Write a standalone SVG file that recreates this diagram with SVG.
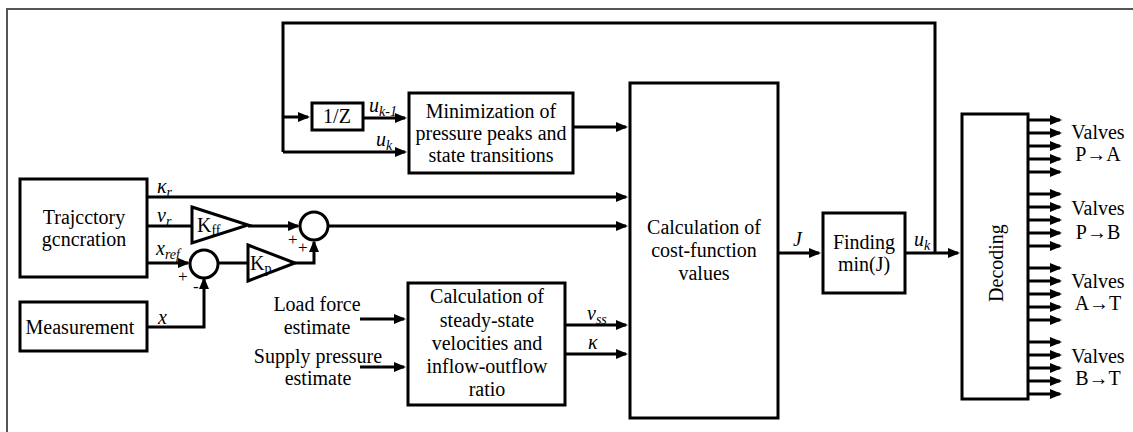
<svg xmlns="http://www.w3.org/2000/svg" width="1133" height="432" viewBox="0 0 1133 432">
  <defs>
    <marker id="arrow" markerUnits="userSpaceOnUse" markerWidth="13" markerHeight="11" refX="10" refY="5" orient="auto">
      <path d="M0,0 L12,5 L0,10 z" fill="#000"/>
    </marker>
    <style>
      .box { fill: #fff; stroke: #000; stroke-width: 3; }
      .wire { fill: none; stroke: #000; stroke-width: 3; }
      .arr { fill: none; stroke: #000; stroke-width: 3; marker-end: url(#arrow); }
      .t { font-family: "Liberation Serif", "Times New Roman", serif; font-size: 20px; fill: #000; }
      .c { text-anchor: middle; }
      .i { font-style: italic; }
      .sub { font-size: 14px; }
      .sign { font-family: "Liberation Serif", serif; font-size: 17px; fill: #000; }
    </style>
  </defs>

  <rect width="1133" height="432" fill="#fff"/>
  <!-- outer frame -->
  <path d="M7,432 V9 H1133" fill="none" stroke="#555" stroke-width="2"/>

  <!-- connectors -->
  <g id="connectors" font-family="Liberation Serif, serif">
    <!-- feedback loop u_k -->
    <path class="wire" d="M935,253 V23 H283 V152"/>
    <path class="arr" d="M283,152 H405"/>
    <path class="arr" d="M283,117 H308"/>
    <path class="arr" d="M363,118 H405"/>
    <path class="arr" d="M573,127 H626"/>
    <!-- trajectory signals -->
    <path class="arr" d="M147,197 H626"/>
    <path class="wire" d="M147,226 H192"/>
    <path class="arr" d="M248,226 H298"/>
    <path class="arr" d="M328,226 H626"/>
    <path class="arr" d="M147,263 H188"/>
    <path class="wire" d="M218,263 H248"/>
    <path class="arr" d="M295,263 H314 V242"/>
    <path class="arr" d="M147,327 H204 V279"/>
    <!-- estimates -->
    <path class="arr" d="M360,319 H404"/>
    <path class="arr" d="M360,367 H404"/>
    <path class="arr" d="M565,325 H626"/>
    <path class="arr" d="M565,354 H626"/>
    <!-- cost / min / decode -->
    <path class="arr" d="M778,253 H819"/>
    <path class="arr" d="M905,253 H958"/>
    <!-- decoded valve commands -->
    <g id="valve-outputs">
      <path class="arr" d="M1028,120 H1060"/>
      <path class="arr" d="M1028,133 H1060"/>
      <path class="arr" d="M1028,146 H1060"/>
      <path class="arr" d="M1028,159 H1060"/>
      <path class="arr" d="M1028,172 H1060"/>
      <path class="arr" d="M1028,194 H1060"/>
      <path class="arr" d="M1028,207 H1060"/>
      <path class="arr" d="M1028,220 H1060"/>
      <path class="arr" d="M1028,233 H1060"/>
      <path class="arr" d="M1028,246 H1060"/>
      <path class="arr" d="M1028,268 H1060"/>
      <path class="arr" d="M1028,281 H1060"/>
      <path class="arr" d="M1028,294 H1060"/>
      <path class="arr" d="M1028,307 H1060"/>
      <path class="arr" d="M1028,320 H1060"/>
      <path class="arr" d="M1028,342 H1060"/>
      <path class="arr" d="M1028,355 H1060"/>
      <path class="arr" d="M1028,368 H1060"/>
      <path class="arr" d="M1028,381 H1060"/>
      <path class="arr" d="M1028,394 H1060"/>
    </g>
    <!-- signal labels -->
    <text class="t i" x="157" y="193">κ<tspan class="sub" dy="4">r</tspan></text>
    <text class="t i" x="157" y="222">v<tspan class="sub" dy="4">r</tspan></text>
    <text class="t i" x="156" y="255">x<tspan class="sub" dy="4">ref</tspan></text>
    <text class="t i" x="158" y="324">x</text>
    <text class="t i" x="369" y="112">u<tspan class="sub" dy="4">k-1</tspan></text>
    <text class="t i" x="376" y="146">u<tspan class="sub" dy="4">k</tspan></text>
    <text class="t i" x="587" y="320">v<tspan class="sub" dy="4">ss</tspan></text>
    <text class="t i" x="588" y="349">κ</text>
    <text class="t i" x="793" y="246">J</text>
    <text class="t i" x="914" y="246">u<tspan class="sub" dy="4">k</tspan></text>
    <!-- summing junction signs -->
    <text class="sign" x="178" y="282">+</text>
    <text class="sign" x="193" y="292">-</text>
    <text class="sign" x="288" y="245">+</text>
    <text class="sign" x="298" y="253">+</text>
    <!-- external inputs -->
    <text class="t c" x="317" y="311">Load force</text>
    <text class="t c" x="317" y="334">estimate</text>
    <text class="t c" x="318" y="363">Supply pressure</text>
    <text class="t c" x="318" y="385">estimate</text>
    <!-- valve group labels -->
    <text class="t c" x="1098" y="139">Valves</text>
    <text class="t c" x="1098" y="161">P→A</text>
    <text class="t c" x="1098" y="215">Valves</text>
    <text class="t c" x="1098" y="239">P→B</text>
    <text class="t c" x="1098" y="288">Valves</text>
    <text class="t c" x="1098" y="310">A→T</text>
    <text class="t c" x="1098" y="363">Valves</text>
    <text class="t c" x="1098" y="385">B→T</text>
  </g>

  <g id="trajectory" font-family="Liberation Serif, serif">
    <rect class="box" x="20" y="179" width="127" height="98"/>
    <text class="t c" x="84" y="224">Trajcctory</text>
    <text class="t c" x="84" y="246">gcncration</text>
  </g>

  <g id="measurement" font-family="Liberation Serif, serif">
    <rect class="box" x="20" y="302" width="127" height="49"/>
    <text class="t c" x="80" y="334">Measurement</text>
  </g>

  <g id="kff" font-family="Liberation Serif, serif">
    <path class="box" d="M192,207 L248,225 L192,243 z"/>
    <text class="t" x="197" y="232">K<tspan class="sub" dy="3">ff</tspan></text>
  </g>

  <g id="kp" font-family="Liberation Serif, serif">
    <path class="box" d="M248,245 L295,263 L248,281 z"/>
    <text class="t" x="250" y="270">K<tspan class="sub" dy="3">p</tspan></text>
  </g>

  <g id="sum-error">
    <circle class="box" cx="204" cy="264" r="14"/>
  </g>

  <g id="sum-velocity">
    <circle class="box" cx="314" cy="226" r="14"/>
  </g>

  <g id="delay" font-family="Liberation Serif, serif">
    <rect class="box" x="312" y="103" width="51" height="27"/>
    <text class="t c" x="337" y="123">1/Z</text>
  </g>

  <g id="minimization" font-family="Liberation Serif, serif">
    <rect class="box" x="409" y="93" width="164" height="80"/>
    <text class="t c" x="491" y="118">Minimization of</text>
    <text class="t c" x="491" y="140">pressure peaks and</text>
    <text class="t c" x="491" y="162">state transitions</text>
  </g>

  <g id="steady-state" font-family="Liberation Serif, serif">
    <rect class="box" x="408" y="283" width="157" height="122"/>
    <text class="t c" x="487" y="303">Calculation of</text>
    <text class="t c" x="487" y="327">steady-state</text>
    <text class="t c" x="487" y="350">velocities and</text>
    <text class="t c" x="487" y="373">inflow-outflow</text>
    <text class="t c" x="487" y="396">ratio</text>
  </g>

  <g id="cost-function" font-family="Liberation Serif, serif">
    <rect class="box" x="630" y="83" width="148" height="335"/>
    <text class="t c" x="704" y="234">Calculation of</text>
    <text class="t c" x="704" y="257">cost-function</text>
    <text class="t c" x="704" y="280">values</text>
  </g>

  <g id="finding-min" font-family="Liberation Serif, serif">
    <rect class="box" x="823" y="213" width="82" height="80"/>
    <text class="t c" x="864" y="249">Finding</text>
    <text class="t c" x="864" y="271">min(J)</text>
  </g>

  <g id="decoding" font-family="Liberation Serif, serif">
    <rect class="box" x="962" y="114" width="66" height="285"/>
    <text class="t c" x="997" y="269" transform="rotate(-90 997 263)">Decoding</text>
  </g>
</svg>
